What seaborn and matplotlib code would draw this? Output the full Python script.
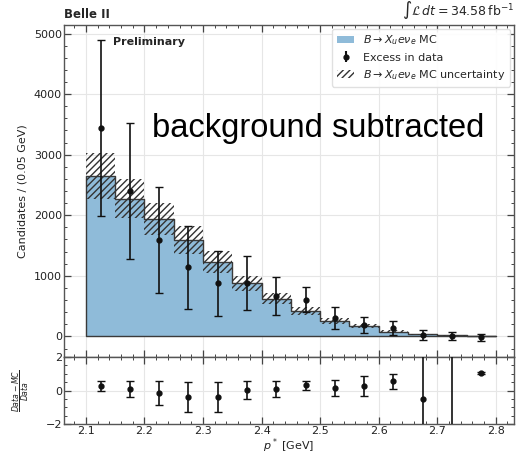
import numpy as np
import pandas as pd
import matplotlib
matplotlib.use("Agg")
import matplotlib.pyplot as plt
from matplotlib.patches import Patch
from matplotlib.ticker import MultipleLocator
import seaborn as sns

# ---- data ----
bin_edges = [2.10, 2.15, 2.20, 2.25, 2.30, 2.35, 2.40, 2.45, 2.50, 2.55, 2.60, 2.65, 2.70, 2.75, 2.80]
bin_centers = [2.125, 2.175, 2.225, 2.275, 2.325, 2.375, 2.425, 2.475, 2.525, 2.575, 2.625, 2.675, 2.725, 2.775]
mc_counts = [2650, 2270, 1940, 1590, 1228, 880, 620, 420, 255, 170, 78, 33, 15, 8]
mc_unc = [380, 322, 260, 232, 183, 123, 93, 71, 45, 30, 20, 10, 5, 3]
data_counts = [3440, 2400, 1590, 1143, 875, 880, 661, 607, 306, 186, 142, 25, 8, -15]
data_err = [1460, 1115, 874, 683, 540, 450, 315, 210, 178, 137, 115, 88, 65, 55]
ratio_vals = [0.26, 0.10, -0.15, -0.39, -0.39, 0.04, 0.10, 0.31, 0.16, 0.26, 0.55, -0.49, -3.0, 1.04]
ratio_err = [0.30, 0.46, 0.69, 0.87, 0.88, 0.52, 0.46, 0.28, 0.49, 0.59, 0.43, 4.0, 6.0, 0.05]

df = pd.DataFrame({"p": bin_centers, "mc": mc_counts})

sns.set_theme(style="ticks")
plt.rcParams["font.family"] = ["DejaVu Sans"]
plt.rcParams["mathtext.fontset"] = "dejavusans"

fig = plt.figure(figsize=(5.16, 4.55), dpi=100)
left, right = 0.124, 0.996
ax = fig.add_axes([left, 0.2154, right - left, 0.945 - 0.2154])
axr = fig.add_axes([left, 0.068, right - left, 0.2154 - 0.068], sharex=ax)

fill_col = "#8fbbd9"
edge_col = "#3a3a3a"

sns.histplot(data=df, x="p", weights="mc", bins=bin_edges, element="step",
             fill=True, color=fill_col, alpha=1.0, edgecolor=edge_col,
             linewidth=1.0, ax=ax, zorder=2)

lo = np.array(mc_counts) - np.array(mc_unc)
hi = np.array(mc_counts) + np.array(mc_unc)
ax.fill_between(bin_edges, np.append(lo, lo[-1]), np.append(hi, hi[-1]), step="post",
                facecolor="none", edgecolor="#333333", hatch="/////", linewidth=0, zorder=3)

ax.errorbar(bin_centers, data_counts, yerr=data_err, fmt="o", color="#111111",
            ms=3.5, elinewidth=1.2, capsize=3, capthick=1.0, zorder=5)

axr.errorbar(bin_centers, ratio_vals, yerr=ratio_err, fmt="o", color="#111111",
             ms=3.5, elinewidth=1.2, capsize=3, capthick=1.0, zorder=5)

ax.set_xlim(2.0625, 2.831)
ax.set_ylim(-340, 5140)
axr.set_ylim(-2, 2)

for a in (ax, axr):
    a.grid(True, color="#e6e6e6", linewidth=0.8, zorder=0)
    a.set_axisbelow(True)
    a.xaxis.set_major_locator(MultipleLocator(0.1))
    a.xaxis.set_minor_locator(MultipleLocator(0.02))
    a.tick_params(which="both", direction="in", top=True, right=True,
                  labelsize=8, colors="#444444", labelcolor="#222222", pad=1.5)
    a.tick_params(which="major", length=5, width=0.9)
    a.tick_params(which="minor", length=2.5, width=0.7)
    for s in a.spines.values():
        s.set_color("#555555")
        s.set_linewidth(1.0)

ax.yaxis.set_major_locator(MultipleLocator(1000))
ax.yaxis.set_minor_locator(MultipleLocator(200))
axr.yaxis.set_major_locator(MultipleLocator(2))
axr.yaxis.set_minor_locator(MultipleLocator(0.5))
ax.tick_params(labelbottom=False)

ax.set_xlabel("")
ax.set_ylabel("Candidates / (0.05 GeV)", fontsize=8, color="#222222")
axr.set_xlabel(r"$p^*$ [GeV]", fontsize=8, color="#222222", labelpad=0)
axr.set_ylabel(r"$\frac{Data-MC}{Data}$", fontsize=8, color="#222222")
ax.yaxis.set_label_coords(-0.08, 0.5)
axr.yaxis.set_label_coords(-0.07, 0.5)

ax.text(0.0, 1.012, "Belle II", transform=ax.transAxes, fontsize=8.5,
        fontweight="bold", ha="left", va="bottom")
ax.text(1.0, 1.012, r"$\int\mathcal{L}\,dt = 34.58\,\mathrm{fb}^{-1}$", transform=ax.transAxes,
        fontsize=9, ha="right", va="bottom")
ax.text(0.108, 0.965, "Preliminary", transform=ax.transAxes, fontsize=8,
        fontweight="bold", ha="left", va="top")

handles = [
    Patch(facecolor=fill_col, edgecolor="none"),
    ax.errorbar([], [], yerr=[], fmt="o", color="#111111", ms=3.5, capsize=2.5),
    Patch(facecolor="none", edgecolor="#333333", hatch="/////", linewidth=0),
]
labels = [r"$B\to X_u e\nu_e$ MC", "Excess in data", r"$B\to X_u e\nu_e$ MC uncertainty"]
leg = ax.legend(handles, labels, loc="upper right", fontsize=8, frameon=True,
                framealpha=0.9, edgecolor="#dddddd", fancybox=True, handlelength=1.6,
                borderaxespad=0.35)

fig.text(152 / 516, 1 - 128 / 455, "background subtracted", fontsize=23.5,
         family="Liberation Sans", ha="left", va="center", color="black")

fig.savefig("out.png", dpi=100)
